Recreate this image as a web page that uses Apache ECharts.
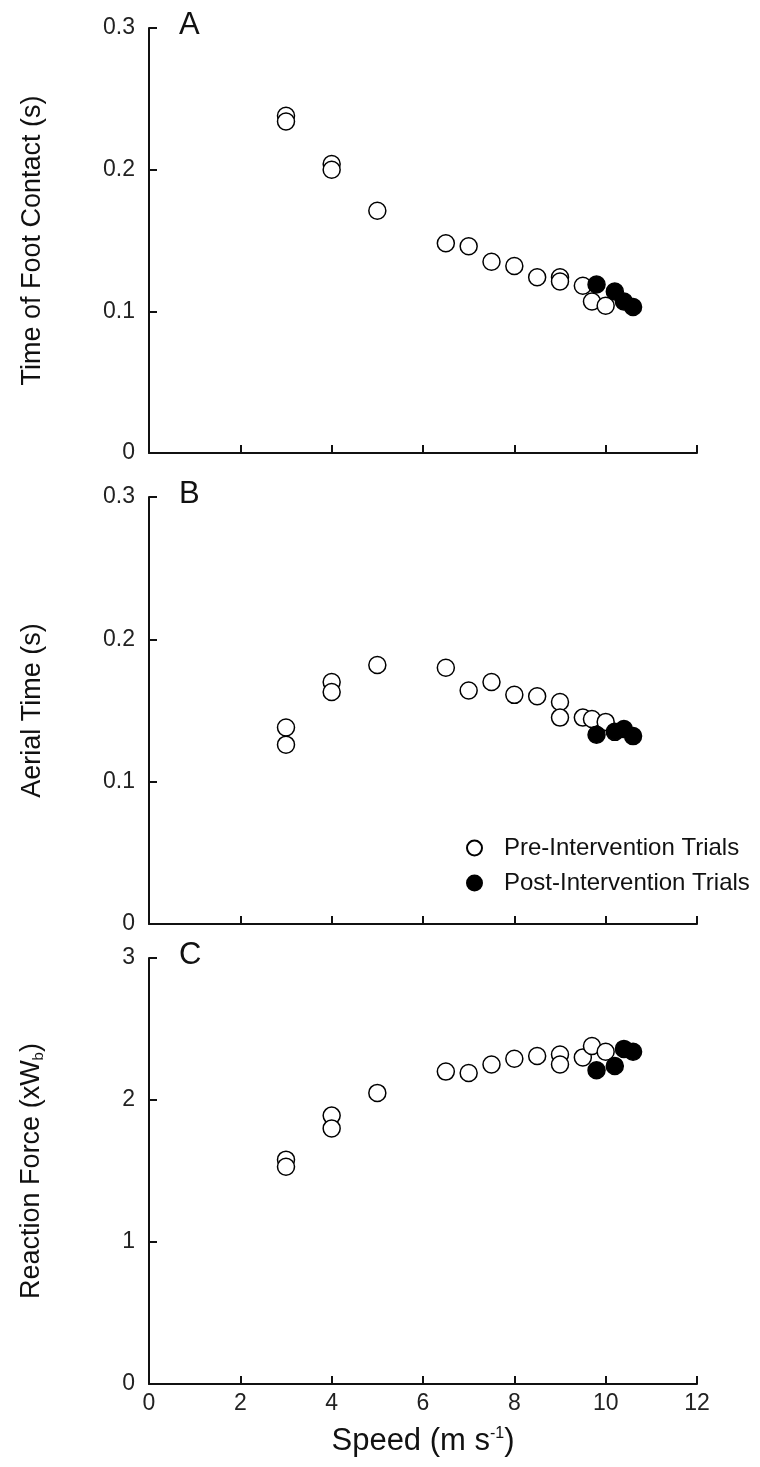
<!DOCTYPE html>
<html>
<head>
<meta charset="utf-8">
<style>
  html, body { margin: 0; padding: 0; background: #fff; }
  #chart { width: 760px; height: 1467px; }
</style>
<script src="https://cdn.jsdelivr.net/npm/echarts@6/dist/echarts.min.js"></script>
</head>
<body>
<div id="chart"></div>
<script>
// speeds (m/s) and values
var preSpeed = [3, 3, 4, 4, 5, 6.5, 7, 7.5, 8, 8.5, 9, 9, 9.5, 9.7, 10];
var postSpeed = [9.8, 10.2, 10.4, 10.6];

var contactPre = [0.238, 0.234, 0.204, 0.200, 0.171, 0.148, 0.146, 0.135, 0.132, 0.124, 0.124, 0.121, 0.118, 0.107, 0.104];
var contactPost = [0.119, 0.114, 0.107, 0.103];

var aerialPre = [0.138, 0.126, 0.170, 0.163, 0.182, 0.180, 0.164, 0.170, 0.161, 0.160, 0.156, 0.145, 0.145, 0.144, 0.142];
var aerialPost = [0.133, 0.135, 0.137, 0.132];

var forcePre = [1.58, 1.53, 1.89, 1.80, 2.05, 2.20, 2.19, 2.25, 2.29, 2.31, 2.32, 2.25, 2.30, 2.38, 2.34];
var forcePost = [2.21, 2.24, 2.36, 2.34];

var panelLetters = ['A', 'B', 'C'];
var yTitles = ['Time of Foot Contact (s)', 'Aerial Time (s)', 'Reaction Force (xW{sub|b})'];
var yMax = [0.3, 0.3, 3];
var yStep = [0.1, 0.1, 1];

function pairs(xs, ys) {
  return xs.map(function(x, i) { return [x, ys[i]]; });
}

var ink = '#111';
var font = 'Liberation Sans, Arial, sans-serif';
var grids = [
  { left: 149, width: 548, top: 28, height: 425 },
  { left: 149, width: 548, top: 497, height: 427 },
  { left: 149, width: 548, top: 958, height: 426 }
];

var xAxes = grids.map(function(g, i) {
  return {
    type: 'value', gridIndex: i, min: 0, max: 12, interval: 2,
    axisLine: { lineStyle: { color: ink, width: 2 } },
    axisTick: { inside: true, length: 8, lineStyle: { color: ink, width: 2 } },
    axisLabel: { show: i === 2, color: '#222', fontSize: 23, margin: 8, fontFamily: font },
    splitLine: { show: false },
    name: i === 2 ? 'Speed (m s{sup|-1})' : '',
    nameLocation: 'middle', nameGap: 42,
    nameTextStyle: {
      fontSize: 31, color: ink, fontFamily: font,
      rich: { sup: { fontSize: 16, verticalAlign: 'top', padding: [0, 0, 15, 0], color: ink, fontFamily: font } }
    }
  };
});

var yAxes = grids.map(function(g, i) {
  return {
    type: 'value', gridIndex: i, min: 0, max: yMax[i], interval: yStep[i],
    axisLine: { lineStyle: { color: ink, width: 2 } },
    axisTick: { inside: true, length: 8, lineStyle: { color: ink, width: 2 } },
    axisLabel: {
      color: '#222', fontSize: 23, margin: 14, fontFamily: font,
      formatter: function(v) { return v === 0 ? '0' : (yStep[i] < 1 ? v.toFixed(1) : String(v)); }
    },
    splitLine: { show: false },
    name: yTitles[i], nameLocation: 'middle', nameRotate: 90, nameGap: 103,
    nameTextStyle: {
      fontSize: 27, color: ink, fontFamily: font,
      rich: { sub: { fontSize: 15, verticalAlign: 'bottom', padding: [14, 0, 0, 0], color: ink, fontFamily: font } }
    }
  };
});

var openStyle = { color: '#fff', borderColor: '#000', borderWidth: 1.5, opacity: 1 };
var fillStyle = { color: '#000', borderColor: '#000', borderWidth: 1.5, opacity: 1 };
var preSets = [contactPre, aerialPre, forcePre];
var postSets = [contactPost, aerialPost, forcePost];

var series = [];
for (var i = 0; i < 3; i++) {
  series.push({
    name: 'Pre-Intervention Trials', type: 'scatter', xAxisIndex: i, yAxisIndex: i,
    symbol: 'circle', symbolSize: 17, itemStyle: openStyle,
    data: pairs(preSpeed, preSets[i])
  });
  series.push({
    name: 'Post-Intervention Trials', type: 'scatter', xAxisIndex: i, yAxisIndex: i,
    symbol: 'circle', symbolSize: 17, itemStyle: fillStyle,
    data: pairs(postSpeed, postSets[i])
  });
}

var chart = echarts.init(document.getElementById('chart'), null, { renderer: 'canvas' });
chart.setOption({
  animation: false,
  backgroundColor: '#fff',
  grid: grids,
  xAxis: xAxes,
  yAxis: yAxes,
  legend: {
    orient: 'vertical', left: 461, top: 831, itemGap: 11,
    itemWidth: 15, itemHeight: 15,
    data: ['Pre-Intervention Trials', 'Post-Intervention Trials'],
    textStyle: { fontSize: 24, color: ink, fontFamily: font, padding: [0, 0, 0, 17] }
  },
  graphic: panelLetters.map(function(t, i) {
    return {
      type: 'text', left: 179, top: grids[i].top - 18,
      style: { text: t, fontSize: 31, fill: ink, fontFamily: font }
    };
  }),
  series: series
});
window.addEventListener('resize', function() { chart.resize(); });
</script>
</body>
</html>
